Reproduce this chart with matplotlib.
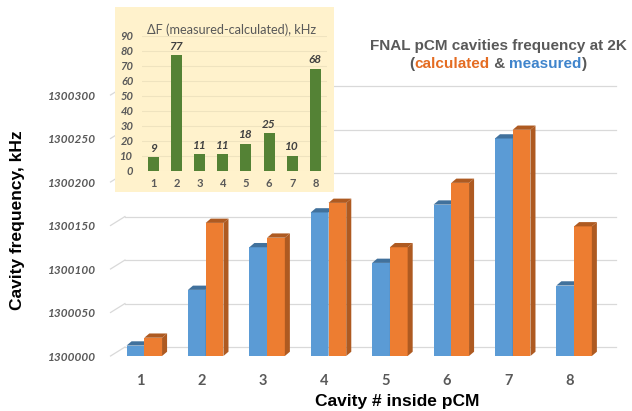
import matplotlib
matplotlib.use('Agg')
import matplotlib.pyplot as plt
import numpy as np
from matplotlib.patches import Polygon

# main chart data (kHz)
base = 1300000
cavities = [1, 2, 3, 4, 5, 6, 7, 8]
measured = [1300012, 1300076, 1300125, 1300165, 1300107, 1300174, 1300250, 1300081]
calculated = [1300021, 1300153, 1300136, 1300176, 1300125, 1300199, 1300260, 1300149]
yticks = [1300000, 1300050, 1300100, 1300150, 1300200, 1300250, 1300300]

# inset data
delta_f = [9, 77, 11, 11, 18, 25, 10, 68]
inset_yticks = [0, 10, 20, 30, 40, 50, 60, 70, 80, 90]

blue = '#5B9BD5'
blue_dark = '#41719C'
orange = '#ED7D31'
orange_dark = '#AE5A21'
green = '#548235'
gray = '#595959'

W, H = 632, 411
fig = plt.figure(figsize=(W / 100, H / 100), dpi=100)
fig.patch.set_facecolor('white')

# main axes, placed in pixels
px_cat = 61.4
px_khz = 0.87
x_lo, x_hi = 0.4, 8.75
left_px = 144.3 - (1 - x_lo) * px_cat
base_px = 356
y_top = 312
ax = fig.add_axes([left_px / W, (H - base_px) / H,
                   (x_hi - x_lo) * px_cat / W, y_top * px_khz / H])
ax.set_xlim(x_lo, x_hi)
ax.set_ylim(base, base + y_top)
for s in ax.spines.values():
    s.set_visible(False)
ax.patch.set_alpha(0)

# depth of floor/back wall and of the bars (data units)
fdx, fdy = 0.235, 10.3
bdx, bdy = 0.082, 4.9
bw = 0.289

# back gridlines and left diagonal
for v in yticks:
    ax.plot([0.45, 0.45 + fdx], [v, v + fdy], color='#D9D9D9', lw=0.9, zorder=1, clip_on=False)
    ax.plot([0.45 + fdx, 8.68], [v + fdy, v + fdy], color='#D9D9D9', lw=0.9, zorder=1, clip_on=False)


def bar3d(x0, val, face, side):
    x1 = x0 + bw
    ax.bar(x0, val - base, width=bw, bottom=base, align='edge', color=face, zorder=3)
    top = Polygon([(x0, val), (x0 + bdx, val + bdy), (x1 + bdx, val + bdy), (x1, val)],
                  closed=True, facecolor=side, edgecolor='none', zorder=3)
    sd = Polygon([(x1, base), (x1 + bdx, base + bdy), (x1 + bdx, val + bdy), (x1, val)],
                 closed=True, facecolor=side, edgecolor='none', zorder=3)
    ax.add_patch(top)
    ax.add_patch(sd)


for c, m, k in zip(cavities, measured, calculated):
    bar3d(c - bw, m, blue, blue_dark)
    bar3d(c, k, orange, orange_dark)

ax.set_yticks(yticks)
ax.set_yticklabels([str(v) for v in yticks], fontfamily='Lato', fontweight='bold',
                   fontstyle='italic', fontsize=8.5, color=gray)
ax.tick_params(axis='y', length=0, pad=8)
ax.set_xticks(np.array(cavities) - 0.07)
ax.set_xticklabels([str(c) for c in cavities], fontfamily='Lato', fontweight='bold',
                   fontsize=10.5, color=gray)
ax.tick_params(axis='x', length=0, pad=13)

fig.text(397 / W, 1 - 401 / H, 'Cavity # inside pCM', ha='center', va='center',
         fontfamily='Liberation Sans', fontweight='bold', fontsize=12.5, color='black')
fig.text(18 / W, 1 - 220 / H, 'Cavity frequency, kHz', ha='center', va='center', rotation=90,
         fontfamily='Liberation Sans', fontweight='bold', fontsize=12.5, color='black')

# title, two lines, second line multicolour
fig.text(498 / W, 1 - 46 / H, 'FNAL pCM cavities frequency at 2K', ha='center', va='center',
         fontfamily='Liberation Sans', fontweight='bold', fontsize=11, color=gray)
pieces = [('(', gray), ('calculated', '#E46C22'), (' & ', gray), ('measured', '#3F84CC'), (')', gray)]
renderer = fig.canvas.get_renderer()
texts = []
widths = []
for s, col in pieces:
    t = fig.text(0, 1 - 64 / H, s, ha='left', va='center', fontfamily='Liberation Sans',
                 fontweight='bold', fontsize=11, color=col)
    texts.append(t)
    widths.append(t.get_window_extent(renderer).width)
# spaces can be trimmed in extents, so measure ' & ' with markers
probe = fig.text(0, 0, 'x & x', fontfamily='Liberation Sans', fontweight='bold', fontsize=11)
probe2 = fig.text(0, 0, 'xx', fontfamily='Liberation Sans', fontweight='bold', fontsize=11)
widths[2] = probe.get_window_extent(renderer).width - probe2.get_window_extent(renderer).width
probe.remove()
probe2.remove()
total = sum(widths)
xpos = 498 - total / 2
for t, w in zip(texts, widths):
    t.set_x(xpos / W)
    xpos += w

# inset: background box
bg = fig.add_axes([115 / W, 1 - 192 / H, (334 - 115) / W, (192 - 7) / H])
bg.set_facecolor('#FFF2CC')
bg.set_xticks([])
bg.set_yticks([])
for s in bg.spines.values():
    s.set_visible(False)

ins = fig.add_axes([141.7 / W, (H - 170.7) / H, 185.3 / W, 135 / H])
ins.patch.set_alpha(0)
ins.set_xlim(0.5, 8.5)
ins.set_ylim(0, 90)
for s in ins.spines.values():
    s.set_visible(False)
ins.set_yticks(inset_yticks)
ins.yaxis.grid(True, color='#EFE3BF', lw=0.8)
ins.set_axisbelow(True)
bars = ins.bar(cavities, delta_f, width=0.47, color=green)
for c, d in zip(cavities, delta_f):
    ins.annotate(str(d), (c, d), xytext=(0, 2.5), textcoords='offset points', ha='center',
                 va='bottom', fontfamily='Lato', fontweight='bold', fontstyle='italic',
                 fontsize=8.5, color='#404040')
ins.set_yticklabels([str(v) for v in inset_yticks], fontfamily='Lato', fontweight='bold',
                    fontstyle='italic', fontsize=8, color=gray)
ins.set_xticks(cavities)
ins.set_xticklabels([str(c) for c in cavities], fontfamily='Lato', fontweight='bold',
                    fontsize=8, color=gray)
ins.tick_params(axis='y', length=0, pad=6)
ins.tick_params(axis='x', length=0, pad=5)
fig.text(232 / W, 1 - 30 / H, '\u0394F (measured-calculated), kHz', ha='center', va='center',
         fontfamily=['Lato', 'DejaVu Sans'], fontsize=9.2, color=gray)

fig.savefig('out.png', dpi=100)
